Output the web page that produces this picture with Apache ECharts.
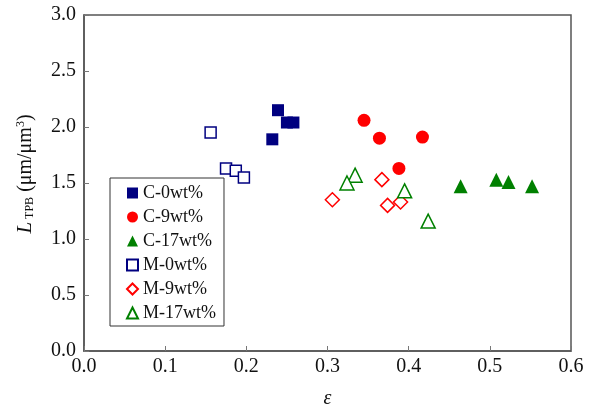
<!DOCTYPE html>
<html>
<head>
<meta charset="utf-8">
<script src="https://cdn.jsdelivr.net/npm/echarts@6/dist/echarts.min.js"></script>
<style>
  html, body { margin: 0; padding: 0; background: #fff; }
  #chart { width: 594px; height: 416px; }
</style>
</head>
<body>
<div id="chart"></div>
<script>
// ε, L_TPB pairs
const c0 = [[0.239, 2.15], [0.232, 1.89], [0.250, 2.04], [0.258, 2.04]]
const c9 = [[0.345, 2.06], [0.364, 1.90], [0.417, 1.91], [0.388, 1.63]]
const c17 = [[0.464, 1.47], [0.508, 1.53], [0.523, 1.51], [0.552, 1.47]]
const m0 = [[0.156, 1.95], [0.175, 1.63], [0.187, 1.61], [0.197, 1.55]]
const m9 = [[0.367, 1.53], [0.306, 1.35], [0.374, 1.30], [0.390, 1.33]]
const m17 = [[0.334, 1.57], [0.324, 1.50], [0.395, 1.43], [0.424, 1.16]]

const names = ['C-0wt%', 'C-9wt%', 'C-17wt%', 'M-0wt%', 'M-9wt%', 'M-17wt%']

const navy = '#000080'
const red = '#ff0000'
const green = '#008000'
const font = '"Liberation Serif", "DejaVu Serif", serif'

const filled = (name, data, symbol, size, color) => ({
  name, type: 'scatter', data, symbol, symbolSize: size,
  itemStyle: { color, opacity: 1 }
})
const hollow = (name, data, symbol, size, color) => ({
  name, type: 'scatter', data, symbol, symbolSize: size,
  itemStyle: { color: '#fff', borderColor: color, borderWidth: 1.5, opacity: 1 }
})

const chart = echarts.init(document.getElementById('chart'))

chart.setOption({
  animation: false,
  textStyle: { fontFamily: font },
  grid: {
    left: 84, right: 23, top: 15, bottom: 65,
    show: true, borderColor: '#555', borderWidth: 1.5
  },
  legend: {
    data: names,
    orient: 'vertical',
    left: 110, top: 178,
    padding: [6, 8, 4, 16],
    itemGap: 6,
    itemWidth: 11, itemHeight: 11,
    borderColor: '#333', borderWidth: 1,
    textStyle: { fontFamily: font, fontSize: 18, color: '#111', lineHeight: 18 }
  },
  xAxis: {
    type: 'value',
    min: 0, max: 0.6, interval: 0.1,
    name: 'ε',
    nameLocation: 'middle',
    nameGap: 38,
    nameTextStyle: { fontFamily: font, fontSize: 20, fontStyle: 'italic', color: '#111' },
    axisLine: { show: true, lineStyle: { color: '#555', width: 1.5 } },
    axisTick: { inside: true, length: 5, lineStyle: { color: '#777' } },
    axisLabel: { fontSize: 20, color: '#111', margin: 6, formatter: v => v.toFixed(1) },
    splitLine: { show: false }
  },
  yAxis: {
    type: 'value',
    min: 0, max: 3, interval: 0.5,
    name: '{i|L}{s| TPB} (μm/μm{sup|3})',
    nameLocation: 'middle',
    nameGap: 48,
    nameTextStyle: {
      fontFamily: font, fontSize: 20, color: '#111',
      padding: [0, 0, 0, 18],
      rich: {
        i: { fontFamily: font, fontSize: 21, fontStyle: 'italic', color: '#111' },
        s: { fontFamily: font, fontSize: 12, color: '#111', verticalAlign: 'bottom' },
        sup: { fontFamily: font, fontSize: 12, color: '#111', verticalAlign: 'top' }
      }
    },
    axisLine: { show: true, lineStyle: { color: '#555', width: 1.5 } },
    axisTick: { show: true, inside: true, length: 5, lineStyle: { color: '#777' } },
    axisLabel: { fontSize: 20, color: '#111', margin: 8, formatter: v => v.toFixed(1) },
    splitLine: { show: false }
  },
  series: [
    filled(names[0], c0, 'rect', 12, navy),
    filled(names[1], c9, 'circle', 13, red),
    filled(names[2], c17, 'triangle', 14, green),
    hollow(names[3], m0, 'rect', 11, navy),
    hollow(names[4], m9, 'diamond', 14, red),
    hollow(names[5], m17, 'triangle', 14, green)
  ]
})

window.addEventListener('resize', () => chart.resize())
</script>
</body>
</html>
